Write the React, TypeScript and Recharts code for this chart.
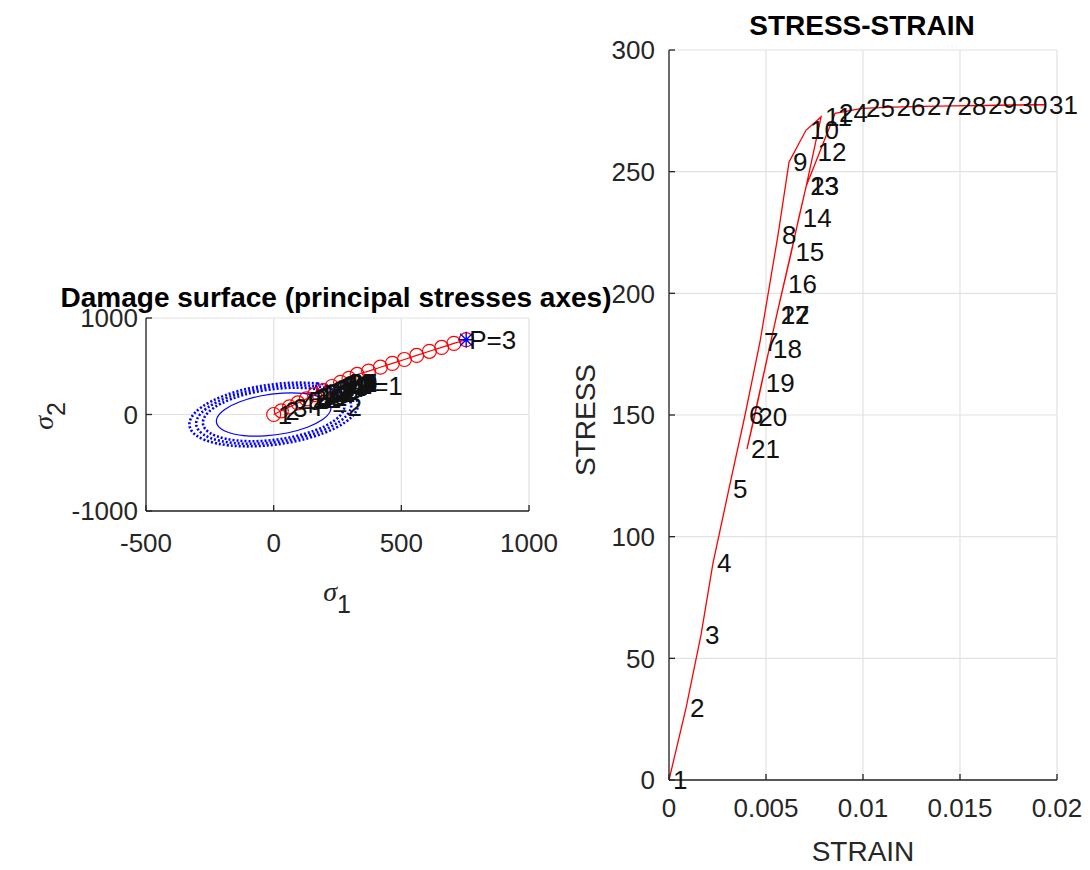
import React from 'react';
import { ComposedChart, Line, Scatter, XAxis, YAxis, CartesianGrid, LabelList } from 'recharts';

const FONT = '"Liberation Sans", Arial, Helvetica, sans-serif';
const INK = '#262626';
const GRID = '#e2e2e2';

// ---- right panel: stress-strain, one labelled point per step
const STEP = [1, 2, 3, 4, 5, 6, 7, 8, 9, 10, 11, 12, 13, 14, 15, 16, 17, 18, 19, 20, 21, 22, 23, 24, 25, 26, 27, 28, 29, 30, 31];
const STRAIN = [
  0, 0.00088, 0.00165, 0.00227, 0.00309, 0.00392, 0.00469, 0.00562, 0.00619, 0.00706, 0.00784,
  0.00745, 0.00707, 0.00669, 0.00631, 0.00593, 0.00555, 0.00516, 0.00478, 0.0044, 0.00402,
  0.00555, 0.00707, 0.00856, 0.00995, 0.01152, 0.01309, 0.01467, 0.01624, 0.01781, 0.01938,
];
const STRESS = [
  0, 29.6, 59.6, 89.2, 119.6, 150, 180, 224, 254, 267, 272.5,
  258, 244, 231, 217, 204, 191, 177, 163, 149, 136,
  191, 244, 274, 276, 276.5, 276.8, 277, 277.2, 277.4, 277.5,
];
const STRAIN_TICKS = [0, 0.005, 0.01, 0.015, 0.02];
const STRESS_TICKS = [0, 50, 100, 150, 200, 250, 300];

// ---- left panel: damage surfaces in principal stress space
const OUTER_S1 = [273.6, 176.5, 52.5, -79.5, -199.4, -288.9, -334.5, -329.1, -273.6, -176.5, -52.5, 79.5, 199.4, 288.9, 334.5, 329.1];
const OUTER_S2 = [273.6, 329.1, 334.5, 288.9, 199.4, 79.5, -52.5, -176.5, -273.6, -329.1, -334.5, -288.9, -199.4, -79.5, 52.5, 176.5];
const MID_S1 = [251.7, 162.4, 48.3, -73.1, -183.4, -265.8, -307.7, -302.8, -251.7, -162.4, -48.3, 73.1, 183.4, 265.8, 307.7, 302.8];
const MID_S2 = [251.7, 302.8, 307.7, 265.8, 183.4, 73.1, -48.3, -162.4, -251.7, -302.8, -307.7, -265.8, -183.4, -73.1, 48.3, 162.4];
const BAND_S1 = [229.8, 148.3, 44.1, -66.8, -167.5, -242.7, -281.0, -276.4, -229.8, -148.3, -44.1, 66.8, 167.5, 242.7, 281.0, 276.4];
const BAND_S2 = [229.8, 276.4, 281.0, 242.7, 167.5, 66.8, -44.1, -148.3, -229.8, -276.4, -281.0, -242.7, -167.5, -66.8, 44.1, 148.3];
const INNER_S1 = [186.0, 120.0, 35.7, -54.1, -135.6, -196.5, -227.5, -223.8, -186.0, -120.0, -35.7, 54.1, 135.6, 196.5, 227.5, 223.8];
const INNER_S2 = [186.0, 223.8, 227.5, 196.5, 135.6, 54.1, -35.7, -120.0, -186.0, -223.8, -227.5, -196.5, -135.6, -54.1, 35.7, 120.0];

const PATH_S1 = [0, 30, 62, 95, 128, 160, 195, 228, 262, 295, 327, 372, 418, 465, 512, 560, 610, 658, 706, 754];
const PATH_S2 = [0, 38, 79, 120, 162, 205, 248, 290, 333, 375, 415, 450, 490, 530, 570, 612, 655, 695, 737, 775];

const LEFT_STEP_S1 = [0, 30, 60, 89, 120, 150, 180, 225, 255, 267, 272, 258, 244, 231, 217, 204, 191, 177, 163, 149, 136, 191, 244, 274, 276, 277, 277, 277, 277, 278, 278];
const LEFT_STEP_S2 = [0, 36, 72, 106, 142, 178, 214, 266, 302, 316, 322, 305, 289, 273, 257, 241, 226, 209, 193, 176, 161, 226, 289, 324, 326, 327, 327, 327, 327, 328, 328];

const P_TEXT = ['P=1', 'P=2', 'P=3'];
const P_S1 = [310, 150, 754];
const P_S2 = [300, 80, 775];
const CROSS = [{ x: 281, y: 294 }];
const STAR = [{ x: 754, y: 775 }];

const S1_TICKS = [-500, 0, 500, 1000];
const S2_TICKS = [-1000, 0, 1000];

const zip = (xs: number[], ys: number[]) => xs.map((x, i) => ({ x, y: ys[i] }));

const stepText = (size: number, dx: number) => (props: any) => {
  const x = props.x ?? props.viewBox?.x;
  const y = props.y ?? props.viewBox?.y;
  return (
    <text x={x + dx} y={y} dominantBaseline="central" fontSize={size} fontFamily={FONT} fill="#111">
      {props.value}
    </text>
  );
};

const tickStyle = { fill: INK, fontSize: 26, fontFamily: FONT };
const axisStyle = { stroke: INK, strokeWidth: 1.3 };

const Caption = ({ x, y, size, bold, rotate, children }: any) => (
  <div
    style={{
      position: 'absolute',
      left: x,
      top: y,
      transform: `translate(-50%, -50%)${rotate ? ' rotate(-90deg)' : ''}`,
      fontFamily: FONT,
      fontSize: size,
      fontWeight: bold ? 700 : 400,
      color: bold ? '#000' : INK,
      whiteSpace: 'nowrap',
      lineHeight: 1,
    }}
  >
    {children}
  </div>
);

const Sigma = ({ sub }: { sub: string }) => (
  <span>
    <span style={{ fontFamily: '"Liberation Serif", "DejaVu Serif", serif', fontStyle: 'italic', fontSize: 28 }}>σ</span>
    <span style={{ fontSize: 25, position: 'relative', top: 12 }}>{sub}</span>
  </span>
);

const crossShape = (p: any) => (
  <path d={`M${p.cx - 5},${p.cy - 5}L${p.cx + 5},${p.cy + 5}M${p.cx - 5},${p.cy + 5}L${p.cx + 5},${p.cy - 5}`} stroke="#0000ff" strokeWidth={1.4} />
);
const starShape = (p: any) => (
  <path
    d={`M${p.cx - 6},${p.cy - 6}L${p.cx + 6},${p.cy + 6}M${p.cx - 6},${p.cy + 6}L${p.cx + 6},${p.cy - 6}M${p.cx},${p.cy - 8}L${p.cx},${p.cy + 8}M${p.cx - 8},${p.cy}L${p.cx + 8},${p.cy}`}
    stroke="#0000ff"
    strokeWidth={1.4}
  />
);

function DamageSurface() {
  const dotted = { stroke: '#0000ff', strokeWidth: 2.6, strokeDasharray: '2 2' };
  return (
    <ComposedChart width={560} height={640} margin={{ top: 318, right: 31, bottom: 69, left: 66 }}>
      <CartesianGrid stroke={GRID} strokeWidth={1.2} />
      <XAxis
        type="number"
        dataKey="x"
        domain={[-500, 1000]}
        ticks={S1_TICKS}
        interval={0}
        height={60}
        tick={tickStyle}
        axisLine={axisStyle}
        tickLine={axisStyle}
        tickSize={-6}
        tickMargin={29}
      />
      <YAxis
        type="number"
        dataKey="y"
        domain={[-1000, 1000]}
        ticks={S2_TICKS}
        interval={0}
        width={80}
        tick={tickStyle}
        axisLine={axisStyle}
        tickLine={axisStyle}
        tickSize={-6}
        tickMargin={14}
      />
      <Line data={zip(OUTER_S1, OUTER_S2)} dataKey="y" type="basisClosed" {...dotted} dot={false} isAnimationActive={false} />
      <Line data={zip(MID_S1, MID_S2)} dataKey="y" type="basisClosed" {...dotted} dot={false} isAnimationActive={false} />
      <Line data={zip(BAND_S1, BAND_S2)} dataKey="y" type="basisClosed" {...dotted} dot={false} isAnimationActive={false} />
      <Line data={zip(INNER_S1, INNER_S2)} dataKey="y" type="basisClosed" stroke="#0000ff" strokeWidth={1.2} dot={false} isAnimationActive={false} />
      <Line
        data={zip(PATH_S1, PATH_S2)}
        dataKey="y"
        type="linear"
        stroke="#ff0000"
        strokeWidth={1.2}
        dot={{ r: 7, stroke: '#ff0000', strokeWidth: 1.2, fill: 'none' }}
        isAnimationActive={false}
      />
      <Line
        data={LEFT_STEP_S1.map((x, i) => ({ x, y: LEFT_STEP_S2[i], n: STEP[i] }))}
        dataKey="y"
        stroke="none"
        dot={false}
        isAnimationActive={false}
      >
        <LabelList dataKey="n" content={stepText(26, 4)} />
      </Line>
      <Line
        data={P_S1.map((x, i) => ({ x, y: P_S2[i], t: P_TEXT[i] }))}
        dataKey="y"
        stroke="none"
        dot={false}
        isAnimationActive={false}
      >
        <LabelList dataKey="t" content={stepText(26, 3)} />
      </Line>
      <Scatter data={CROSS} dataKey="y" shape={crossShape} isAnimationActive={false} />
      <Scatter data={STAR} dataKey="y" shape={starShape} isAnimationActive={false} />
    </ComposedChart>
  );
}

function StressStrain() {
  const data = STEP.map((n, i) => ({ x: STRAIN[i], y: STRESS[i], n }));
  return (
    <ComposedChart width={530} height={870} margin={{ top: 50, right: 33, bottom: 40, left: 19 }}>
      <CartesianGrid stroke={GRID} strokeWidth={1.2} />
      <XAxis
        type="number"
        dataKey="x"
        domain={[0, 0.02]}
        ticks={STRAIN_TICKS}
        interval={0}
        height={50}
        tick={tickStyle}
        axisLine={axisStyle}
        tickLine={axisStyle}
        tickSize={-6}
        tickMargin={25}
      />
      <YAxis
        type="number"
        dataKey="y"
        domain={[0, 300]}
        ticks={STRESS_TICKS}
        interval={0}
        width={90}
        tick={tickStyle}
        axisLine={axisStyle}
        tickLine={axisStyle}
        tickSize={-6}
        tickMargin={20}
      />
      <Line data={data} dataKey="y" type="linear" stroke="#ff0000" strokeWidth={1.3} dot={false} isAnimationActive={false}>
        <LabelList dataKey="n" content={stepText(26, 4)} />
      </Line>
    </ComposedChart>
  );
}

export default function App() {
  return (
    <div style={{ position: 'absolute', left: 0, top: 0, width: 1090, height: 870, background: '#fff', overflow: 'hidden' }}>
      <div style={{ position: 'absolute', left: 0, top: 0 }}>
        <DamageSurface />
      </div>
      <div style={{ position: 'absolute', left: 560, top: 0 }}>
        <StressStrain />
      </div>
      <Caption x={336} y={298} size={28} bold>
        Damage surface (principal stresses axes)
      </Caption>
      <Caption x={862} y={26} size={28} bold>
        STRESS-STRAIN
      </Caption>
      <Caption x={586} y={420} size={28} rotate>
        STRESS
      </Caption>
      <Caption x={863} y={852} size={28}>
        STRAIN
      </Caption>
      <Caption x={337} y={592} size={28}>
        <Sigma sub="1" />
      </Caption>
      <Caption x={44} y={416} size={28} rotate>
        <Sigma sub="2" />
      </Caption>
    </div>
  );
}
